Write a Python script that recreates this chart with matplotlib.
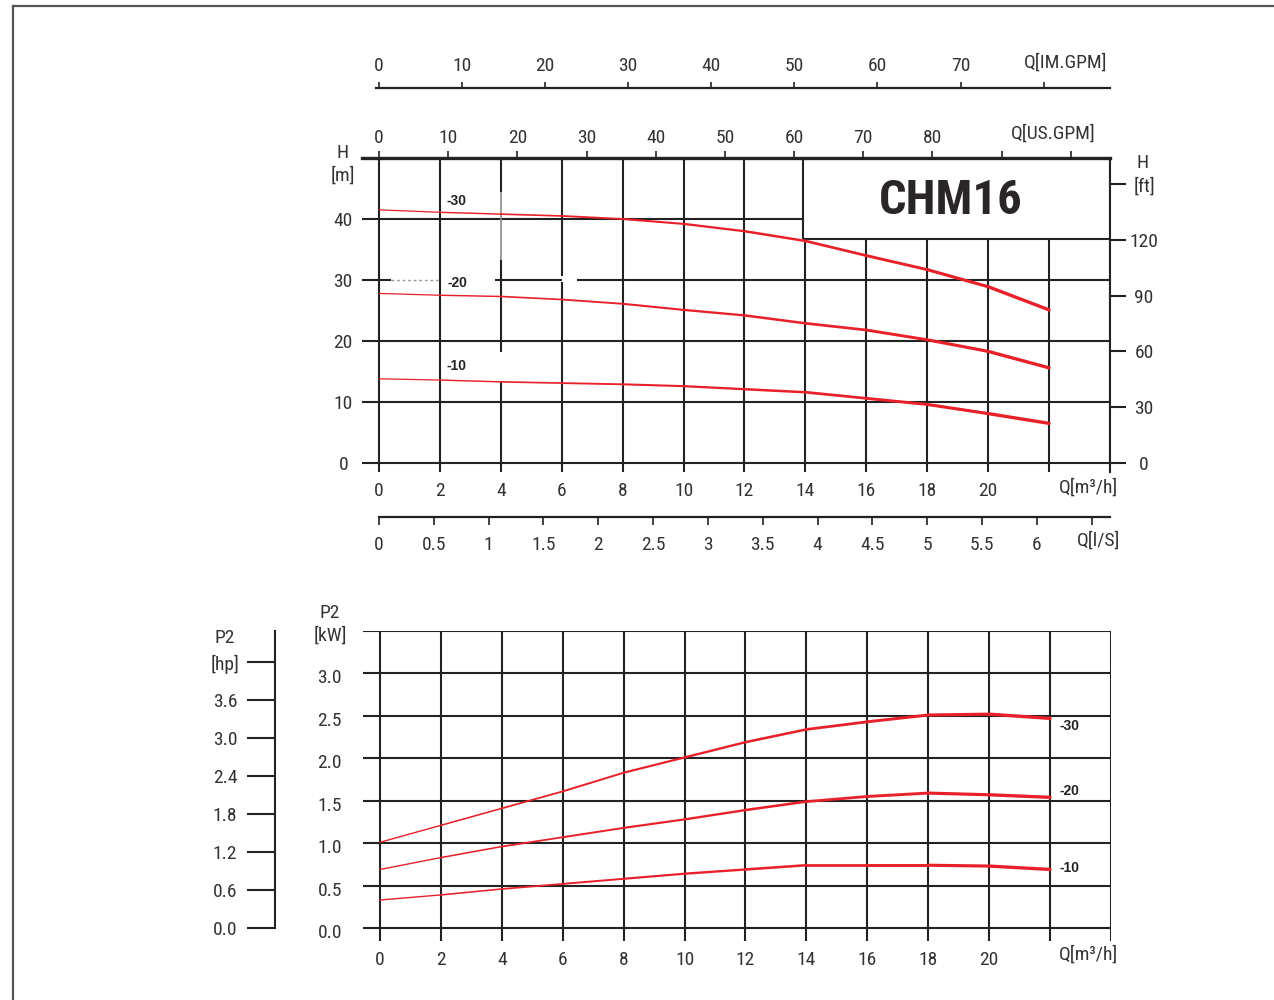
import matplotlib
matplotlib.use('Agg')
import matplotlib.pyplot as plt
import numpy as np
from matplotlib.collections import LineCollection
from matplotlib import font_manager
from matplotlib.transforms import ScaledTranslation

# ---------------- data ----------------
Q = [0, 2, 4, 6, 8, 10, 12, 14, 16, 18, 20, 22]            # m3/h
H_30 = [41.5, 41.1, 40.8, 40.5, 40.0, 39.2, 38.0, 36.4, 34.0, 31.7, 28.9, 25.1]
H_20 = [27.8, 27.5, 27.3, 26.8, 26.1, 25.1, 24.2, 22.9, 21.8, 20.2, 18.3, 15.6]
H_10 = [13.8, 13.6, 13.3, 13.1, 12.9, 12.6, 12.1, 11.6, 10.6, 9.6, 8.1, 6.5]
P_30 = [1.01, 1.21, 1.41, 1.61, 1.83, 2.01, 2.19, 2.34, 2.43, 2.51, 2.52, 2.47]
P_20 = [0.69, 0.83, 0.96, 1.07, 1.18, 1.28, 1.39, 1.49, 1.55, 1.59, 1.57, 1.54]
P_10 = [0.33, 0.39, 0.46, 0.52, 0.58, 0.64, 0.69, 0.74, 0.74, 0.74, 0.73, 0.69]
series_names = ['-30', '-20', '-10']

q_ticks = list(range(0, 21, 2))
h_ticks = [0, 10, 20, 30, 40]
ft_ticks = [0, 30, 60, 90, 120, 150]
ft_labels = ['0', '30', '60', '90', '120', '[ft]']
usgpm_ticks = list(range(0, 101, 10))
usgpm_labels = [str(v) if v <= 80 else '' for v in usgpm_ticks]
imgpm_ticks = list(range(0, 81, 10))
imgpm_labels = [str(v) if v <= 70 else '' for v in imgpm_ticks]
ls_ticks = [i * 0.5 for i in range(14)]
ls_labels = ['0', '0.5', '1', '1.5', '2', '2.5', '3', '3.5', '4', '4.5', '5', '5.5', '6', '']
kw_ticks = [0, 0.5, 1.0, 1.5, 2.0, 2.5, 3.0]
hp_ticks = [0, 0.6, 1.2, 1.8, 2.4, 3.0, 3.6, 4.2]
hp_labels = ['0.0', '0.6', '1.2', '1.8', '2.4', '3.0', '3.6', '[hp]']

# ---------------- style ----------------
names = {f.name for f in font_manager.fontManager.ttflist}
NARROW = next((f for f in ['Liberation Sans Narrow', 'Roboto Condensed', 'DejaVu Sans Condensed',
                           'Liberation Sans'] if f in names), 'DejaVu Sans')
BOLDF = 'Liberation Sans' if 'Liberation Sans' in names else 'DejaVu Sans'
TC = '#333333'
GC = '#222222'
RED = '#e8202a'
FS = 14
GLW = 1.5

W, Hpx = 1274, 1000
fig = plt.figure(figsize=(W / 100, Hpx / 100), dpi=100)
fig.patch.set_facecolor('white')


def box(left, top, right, bottom):
    return [left / W, 1 - bottom / Hpx, (right - left) / W, (bottom - top) / Hpx]


def ftxt(x, y, s, **kw):
    kw.setdefault('ha', 'center')
    kw.setdefault('va', 'center')
    kw.setdefault('fontsize', FS)
    kw.setdefault('family', NARROW)
    kw.setdefault('color', TC)
    fig.text(x / W, 1 - y / Hpx, s, **kw)


def red_curve(ax, x, y, w0=0.9, w1=2.4):
    pts = np.column_stack([x, y])
    segs = np.stack([pts[:-1], pts[1:]], axis=1)
    lc = LineCollection(segs, colors=RED, linewidths=np.linspace(w0, w1, len(segs)),
                        capstyle='round', joinstyle='round', zorder=5)
    ax.add_collection(lc)


# page frame
fig.add_artist(plt.Line2D([13 / W, 1], [1 - 6 / Hpx, 1 - 6 / Hpx], color='#555555', lw=1.6))
fig.add_artist(plt.Line2D([13 / W, 13 / W], [0, 1 - 6 / Hpx], color='#555555', lw=1.6))

# ================= top chart (H) =================
XL = -0.558
YL = -1.475
ax1 = fig.add_axes(box(362, 158, 1110, 472))
ax1.set_xlim(XL, 24)
ax1.set_ylim(YL, 50)
for s in ax1.spines.values():
    s.set_visible(False)
ax1.set_facecolor('none')
ax1.set_xticks(q_ticks)
ax1.set_yticks(h_ticks)
ax1.tick_params(axis='x', length=0, pad=7.5, labelsize=FS, labelcolor=TC)
ax1.tick_params(axis='y', length=0, pad=13.5, labelsize=FS, labelcolor=TC)
for lab in ax1.get_xticklabels() + ax1.get_yticklabels():
    lab.set_family(NARROW)
for lab in ax1.get_yticklabels():
    lab.set_ha('center')

BX = 13.92
BY = 36.72
ax1.hlines([0, 10, 20], XL, 24, color=GC, lw=GLW)
# line at 30 with gaps
ax1.hlines(30, XL, 0.39, color=GC, lw=GLW)
ax1.hlines(30, 0.39, 1.95, color='#999999', lw=1.0, linestyles=(0, (2, 2)))
ax1.hlines(30, 3.81, 6.0, color=GC, lw=GLW)
ax1.hlines(30, 6.5, 24, color=GC, lw=GLW)
ax1.hlines(40, XL, BX, color=GC, lw=GLW)
ax1.hlines(BY, BX, 24, color=GC, lw=GLW)
ax1.vlines(BX, BY, 50, color=GC, lw=GLW)
for q in [0, 2, 8, 10, 12]:
    ax1.vlines(q, YL, 50, color=GC, lw=GLW)
ax1.vlines(4, YL, 13.3, color=GC, lw=GLW)
ax1.vlines(4, 18.2, 33.3, color=GC, lw=GLW)
ax1.vlines(4, 33.3, 44.4, color='#8a8a8a', lw=1.2)
ax1.vlines(4, 44.4, 50, color=GC, lw=GLW)
ax1.vlines(6, YL, 29.6, color=GC, lw=GLW)
ax1.vlines(6, 30.6, 50, color=GC, lw=GLW)
for q in [14, 16, 18, 20, 22]:
    ax1.vlines(q, YL, BY, color=GC, lw=GLW)
ax1.vlines(24, YL, 50, color=GC, lw=GLW)

for hv in (H_30, H_20, H_10):
    red_curve(ax1, Q, hv)
for name, yv in zip(series_names, [42.95, 29.5, 15.9]):
    ax1.text(2.56, yv, name, ha='center', va='center', fontsize=10, fontweight='bold',
             family=BOLDF, color='#222222')

ax1.text(18.78, 42.9, 'CHM16', ha='center', va='center', fontsize=35, fontweight='bold',
         family=NARROW, color='#2a2526')

# US GPM (top spine)
sec_us = ax1.secondary_xaxis('top', functions=(lambda m: m * 4.40287, lambda g: g / 4.40287))
sec_us.set_xticks(usgpm_ticks)
sec_us.set_xticklabels(usgpm_labels)
sec_us.spines['top'].set_linewidth(2.4)
sec_us.spines['top'].set_color(GC)
sec_us.tick_params(axis='x', direction='out', length=5, width=1.2, color=GC, pad=3,
                   labelsize=FS, labelcolor=TC)
for lab in sec_us.get_xticklabels():
    lab.set_family(NARROW)

# ft (right)
sec_ft = ax1.secondary_yaxis('right', functions=(lambda m: m * 3.28084, lambda f: f / 3.28084))
sec_ft.set_yticks(ft_ticks)
sec_ft.set_yticklabels(ft_labels)
sec_ft.spines['right'].set_linewidth(GLW)
sec_ft.spines['right'].set_color(GC)
sec_ft.tick_params(axis='y', direction='out', length=11.5, width=GLW, color=GC, pad=13,
                   labelsize=FS, labelcolor=TC)
for lab in sec_ft.get_yticklabels():
    lab.set_family(NARROW)
    lab.set_ha('center')

# IM GPM separate scale
ax_im = fig.add_axes(box(376, 88, 1110, 89))
ax_im.set_xlim(-0.098 * 3.66615, 24 * 3.66615)
ax_im.set_ylim(0, 1)
ax_im.set_facecolor('none')
for k in ['bottom', 'left', 'right']:
    ax_im.spines[k].set_visible(False)
ax_im.spines['top'].set_linewidth(1.6)
ax_im.spines['top'].set_color(GC)
ax_im.set_yticks([])
ax_im.xaxis.set_ticks_position('top')
ax_im.xaxis.set_label_position('top')
ax_im.set_xticks(imgpm_ticks)
ax_im.set_xticklabels(imgpm_labels)
ax_im.tick_params(axis='x', direction='out', length=4.5, width=1.2, color=GC, pad=5,
                  labelsize=FS, labelcolor=TC)
for lab in ax_im.get_xticklabels():
    lab.set_family(NARROW)

# l/s separate scale
ax_ls = fig.add_axes(box(379, 516, 1110, 517))
ax_ls.set_xlim(0, 24 / 3.6)
ax_ls.set_ylim(0, 1)
ax_ls.set_facecolor('none')
for k in ['top', 'left', 'right']:
    ax_ls.spines[k].set_visible(False)
ax_ls.spines['bottom'].set_linewidth(1.6)
ax_ls.spines['bottom'].set_color(GC)
ax_ls.set_yticks([])
ax_ls.set_xticks(ls_ticks)
ax_ls.set_xticklabels(ls_labels)
ax_ls.tick_params(axis='x', direction='out', length=6, width=1.2, color=GC, pad=7.5,
                  labelsize=FS, labelcolor=TC)
for lab in ax_ls.get_xticklabels():
    lab.set_family(NARROW)

ftxt(343, 153, 'H')
ftxt(343, 176, '[m]')
ftxt(1143, 163, 'H')
ftxt(1066, 63, 'Q[IM.GPM]')
ftxt(1053, 134, 'Q[US.GPM]')
ftxt(1088, 488, 'Q[m³/h]')
ftxt(1099, 541, 'Q[l/S]')

# ================= bottom chart (P2) =================
YL2 = -0.153
ax2 = fig.add_axes(box(363, 631, 1111, 941))
ax2.set_xlim(XL, 24)
ax2.set_ylim(YL2, 3.5)
for s in ax2.spines.values():
    s.set_visible(False)
ax2.set_facecolor('none')
ax2.set_xticks(q_ticks)
ax2.set_yticks(kw_ticks)
ax2.set_yticklabels([f'{v:.1f}' for v in kw_ticks])
ax2.tick_params(axis='x', length=0, pad=7, labelsize=FS, labelcolor=TC)
ax2.tick_params(axis='y', length=0, pad=24, labelsize=FS, labelcolor=TC)
shift = ScaledTranslation(0, -3 / 100, fig.dpi_scale_trans)
for lab in ax2.get_xticklabels() + ax2.get_yticklabels():
    lab.set_family(NARROW)
for lab in ax2.get_yticklabels():
    lab.set_ha('center')
    lab.set_transform(lab.get_transform() + shift)

ax2.hlines([0, 0.5, 1.0, 1.5, 2.0, 2.5, 3.0, 3.5], XL, 24, color=GC, lw=GLW)
for q in range(0, 25, 2):
    ax2.vlines(q, YL2, 3.5, color=GC, lw=GLW)

for pv in (P_30, P_20, P_10):
    red_curve(ax2, Q, pv, w0=1.0, w1=2.4)
for name, yv in zip(series_names, [2.38, 1.61, 0.707]):
    ax2.text(22.65, yv, name, ha='center', va='center', fontsize=10, fontweight='bold',
             family=BOLDF, color='#222222')

# hp scale
ax_hp = fig.add_axes(box(275, 631, 276, 928))
ax_hp.set_ylim(0, 3.5 / 0.7457)
ax_hp.set_xlim(0, 1)
ax_hp.set_facecolor('none')
for k in ['top', 'bottom', 'right']:
    ax_hp.spines[k].set_visible(False)
ax_hp.spines['left'].set_linewidth(GLW)
ax_hp.spines['left'].set_color(GC)
ax_hp.set_xticks([])
ax_hp.set_yticks(hp_ticks)
ax_hp.set_yticklabels(hp_labels)
ax_hp.tick_params(axis='y', direction='out', length=20, width=GLW, color=GC, pad=16,
                  labelsize=FS, labelcolor=TC)
for lab in ax_hp.get_yticklabels():
    lab.set_family(NARROW)
    lab.set_ha('center')

ftxt(225, 638, 'P2')
ftxt(330, 613, 'P2')
ftxt(330, 636, '[kW]')
ftxt(1088, 955, 'Q[m³/h]')

fig.savefig('out.png', dpi=100, facecolor='white')
